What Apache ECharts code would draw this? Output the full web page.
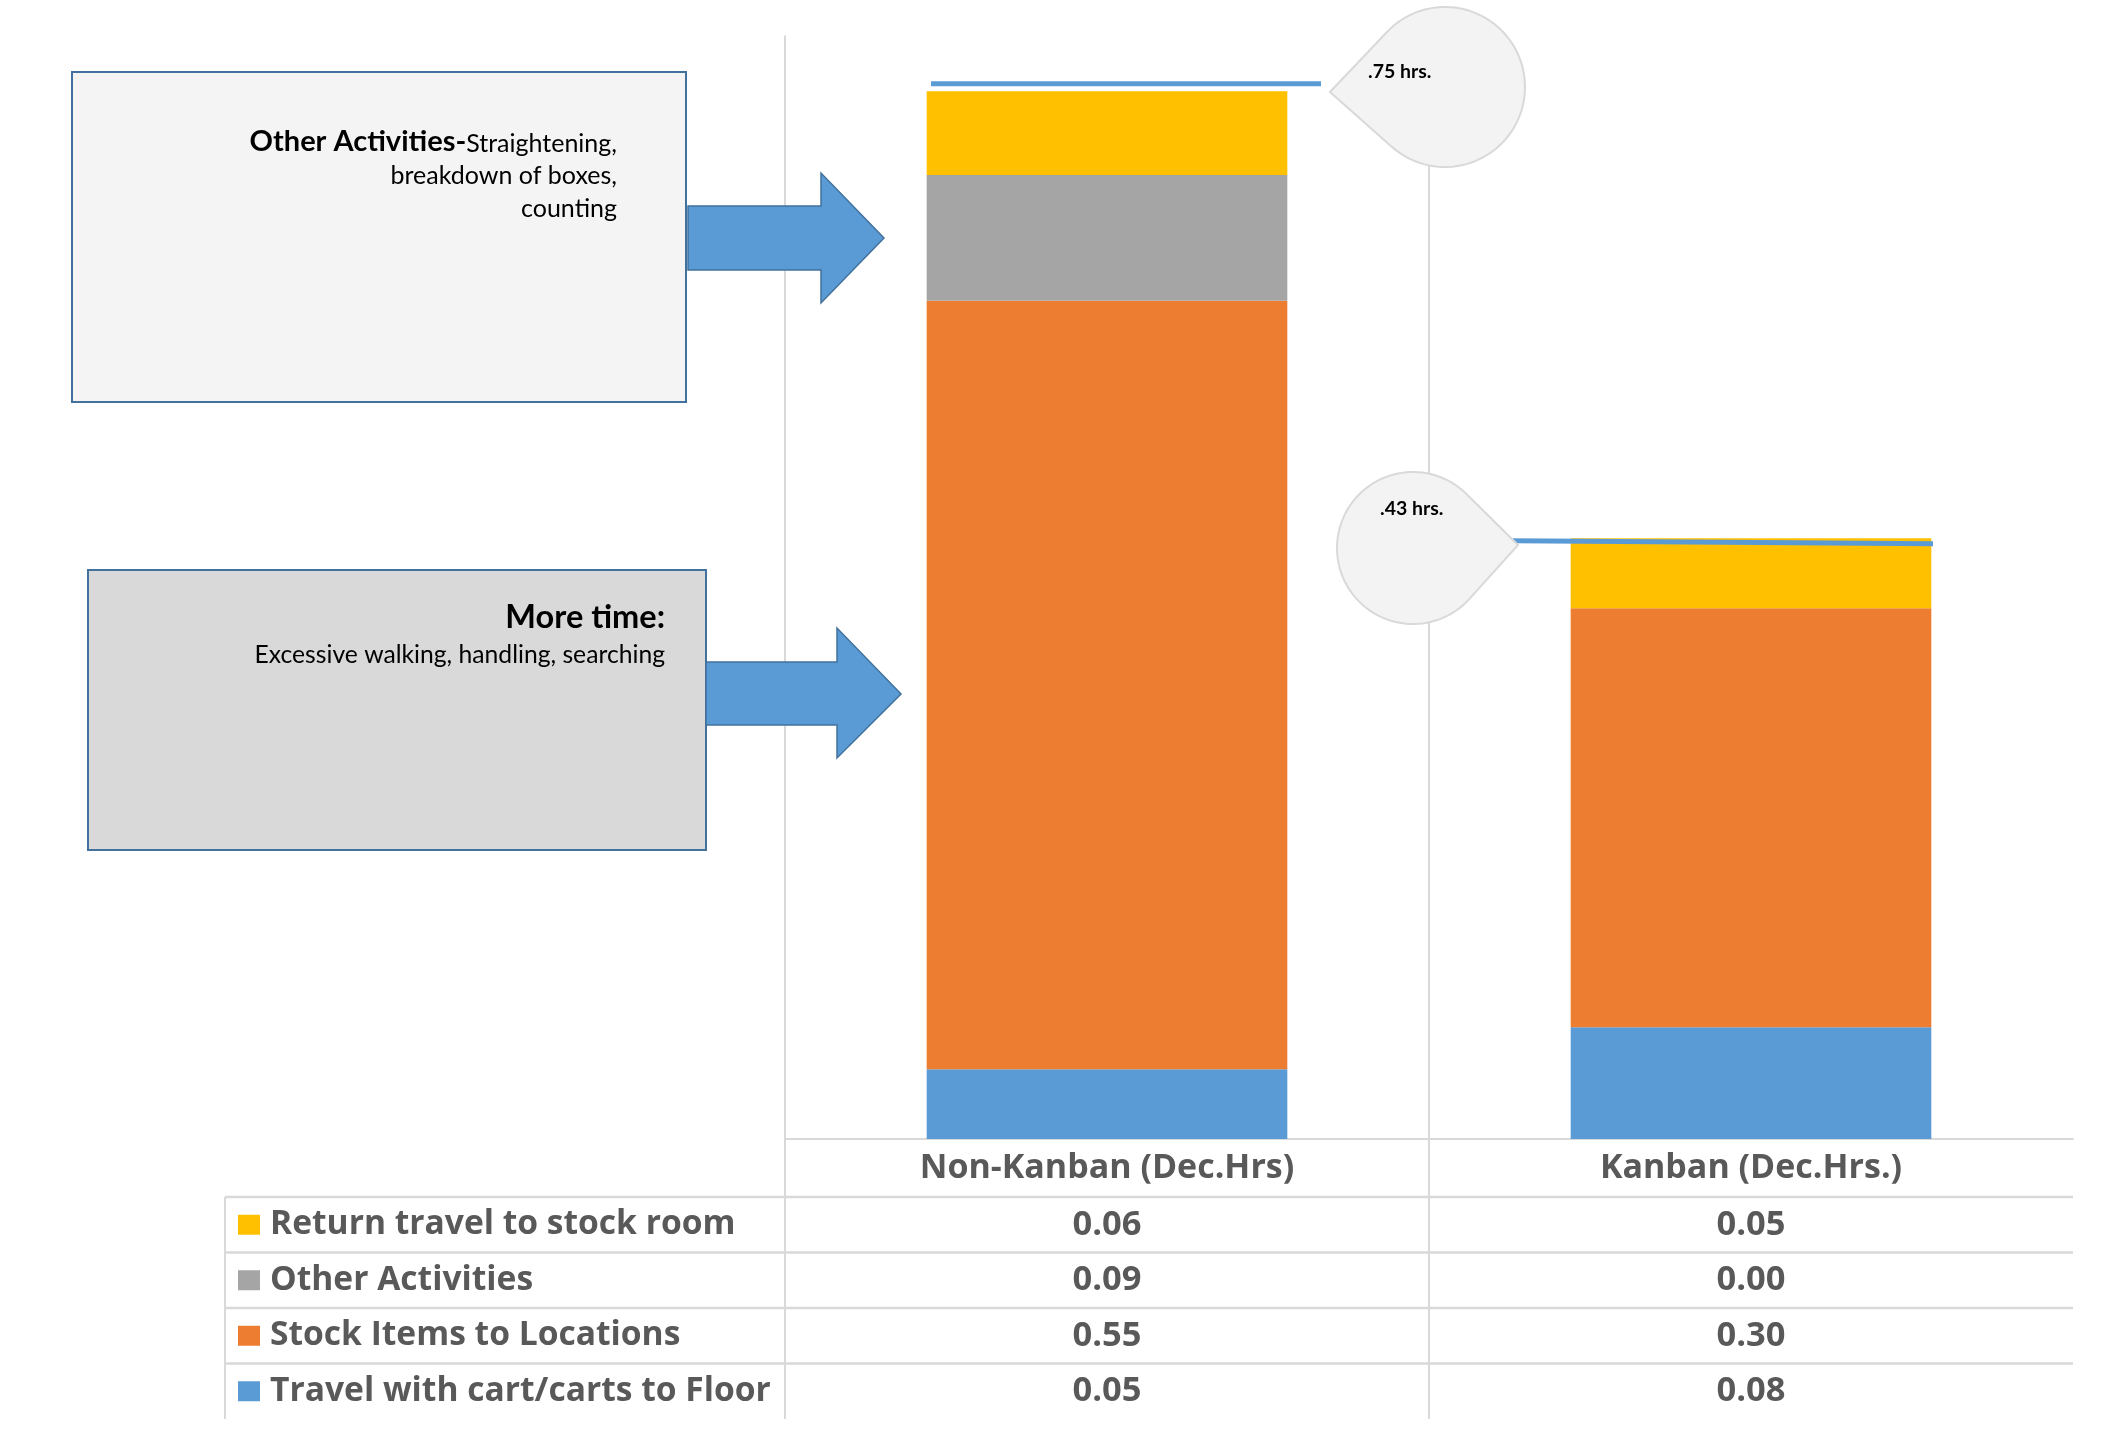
<!DOCTYPE html>
<html><head><meta charset="utf-8">
<script src="https://cdn.jsdelivr.net/npm/echarts@6/dist/echarts.min.js"></script>
<style>html,body{margin:0;padding:0;background:#fff}#c{width:2123px;height:1450px}</style>
</head><body><div id="c"></div>
<script>
// ---- data ----
const categories = ['Non-Kanban (Dec.Hrs)', 'Kanban (Dec.Hrs.)'];
// stacked from bottom to top
const seriesNames = ['Travel with cart/carts to Floor', 'Stock Items to Locations', 'Other Activities', 'Return travel to stock room'];
const travelToFloor = [0.05, 0.08];
const stockItems = [0.55, 0.30];
const otherActivities = [0.09, 0.00];
const returnTravel = [0.06, 0.05];
const seriesValues = [travelToFloor, stockItems, otherActivities, returnTravel];
const seriesColors = ['#5B9BD5', '#ED7D31', '#A5A5A5', '#FFC000'];
const yMax = 0.79;
const note1Bold = 'Other Activities-';
const note1Lines = ['Straightening,', 'breakdown of boxes,', 'counting'];
const note2Bold = 'More time:';
const note2Text = 'Excessive walking, handling, searching';

const FONT = 'Lato, "Open Sans", sans-serif';
const TFONT = '"Open Sans", Lato, sans-serif';
const chart = echarts.init(document.getElementById('c'), null, {renderer: 'canvas'});

chart.setOption({
  animation: false,
  backgroundColor: '#ffffff',
  grid: {left: 785, right: 50, top: 35.4, bottom: 311, containLabel: false},
  xAxis: {
    type: 'category', data: categories,
    axisLine: {show: true, lineStyle: {color: '#D9D9D9', width: 2}},
    axisTick: {show: false}, axisLabel: {show: false}, splitLine: {show: false}
  },
  yAxis: {type: 'value', min: 0, max: yMax, show: false, splitLine: {show: false}},
  series: seriesNames.map((n, i) => ({
    name: n, type: 'bar', stack: 'total', barWidth: '56%',
    data: seriesValues[i], itemStyle: {color: seriesColors[i]}, z: 2
  }))
});

// ---- annotations & data table ----
const cx = categories.map(c => chart.convertToPixel({xAxisIndex: 0}, c));
const step = cx[1] - cx[0];
const plotLeft = cx[0] - step / 2, plotMid = cx[0] + step / 2, plotRight = cx[1] + step / 2;
const yTop = chart.convertToPixel({yAxisIndex: 0}, yMax);
const y0 = chart.convertToPixel({yAxisIndex: 0}, 0);
const totals = categories.map((c, j) => seriesValues.reduce((s, a) => s + a[j], 0));
const yTot = totals.map(t => chart.convertToPixel({yAxisIndex: 0}, t));

const G = [];
const GRID = '#D9D9D9';
const tableLeft = 225, headerBottom = y0 + 58, rowH = 55.5;
const tableBottom = headerBottom + rowH * 4;

// vertical gridlines (category boundaries) continuing through table
[plotLeft, plotMid].forEach(x => G.push({type: 'line', z: 0, shape: {x1: x, y1: yTop, x2: x, y2: tableBottom}, style: {stroke: GRID, lineWidth: 2}}));
// table left border
G.push({type: 'line', z: 0, shape: {x1: tableLeft, y1: headerBottom, x2: tableLeft, y2: tableBottom}, style: {stroke: GRID, lineWidth: 2}});
// horizontal row lines
for (let r = 0; r < 4; r++) {
  const y = headerBottom + r * rowH;
  G.push({type: 'line', z: 0, shape: {x1: tableLeft, y1: y, x2: plotRight, y2: y}, style: {stroke: GRID, lineWidth: 2.5}});
}
const TXT = '#595959';
// header
categories.forEach((c, j) => G.push({type: 'text', z: 5, style: {text: c, x: cx[j], y: (y0 + headerBottom) / 2, align: 'center', verticalAlign: 'middle', fontFamily: TFONT, fontWeight: 'bold', fontSize: 34, fill: TXT}}));
// rows, top row = top of stack
for (let r = 0; r < 4; r++) {
  const si = 3 - r;
  const yc = headerBottom + r * rowH + rowH / 2;
  G.push({type: 'rect', z: 5, shape: {x: 238, y: yc - 10, width: 22, height: 20}, style: {fill: seriesColors[si]}});
  G.push({type: 'text', z: 5, style: {text: seriesNames[si], x: 270, y: yc, align: 'left', verticalAlign: 'middle', fontFamily: TFONT, fontWeight: 'bold', fontSize: 33.6, fill: TXT}});
  categories.forEach((c, j) => G.push({type: 'text', z: 5, style: {text: seriesValues[si][j].toFixed(2), x: cx[j], y: yc, align: 'center', verticalAlign: 'middle', fontFamily: TFONT, fontWeight: 'bold', fontSize: 34.5, fill: TXT}}));
}

// teardrop callouts
function teardrop(ccx, ccy, r, tx, ty) {
  const d = Math.hypot(tx - ccx, ty - ccy);
  const ang = Math.atan2(ty - ccy, tx - ccx);
  const th = Math.acos(r / d);
  const pts = [[tx, ty]];
  const a1 = ang - th, a2 = ang + th - 2 * Math.PI;
  const n = 80;
  for (let i = 0; i <= n; i++) {
    const a = a1 + (a2 - a1) * i / n;
    pts.push([ccx + r * Math.cos(a), ccy + r * Math.sin(a)]);
  }
  return pts;
}
const fmtHrs = t => t.toFixed(2).replace(/^0/, '') + ' hrs.';
// blue lines from totals to callouts
G.push({type: 'line', z: 9, shape: {x1: 931, y1: yTot[0] - 7.5, x2: 1321, y2: yTot[0] - 7.5}, style: {stroke: '#5B9BD5', lineWidth: 5}});
G.push({type: 'line', z: 9, shape: {x1: 1513, y1: yTot[1] + 2.5, x2: 1933, y2: yTot[1] + 5.5}, style: {stroke: '#5B9BD5', lineWidth: 5}});
G.push({type: 'polygon', z: 10, shape: {points: teardrop(1445, 87, 80, 1330, 92)}, style: {fill: '#F3F3F3', stroke: '#D9D9D9', lineWidth: 2}});
G.push({type: 'polygon', z: 10, shape: {points: teardrop(1413, 548, 76, 1518, 545)}, style: {fill: '#F3F3F3', stroke: '#D9D9D9', lineWidth: 2}});
G.push({type: 'text', z: 11, style: {text: fmtHrs(totals[0]), x: 1368, y: 71.5, align: 'left', verticalAlign: 'middle', fontFamily: FONT, fontWeight: 'bold', fontSize: 19.5, fill: '#000'}});
G.push({type: 'text', z: 11, style: {text: fmtHrs(totals[1]), x: 1380, y: 508.5, align: 'left', verticalAlign: 'middle', fontFamily: FONT, fontWeight: 'bold', fontSize: 19.5, fill: '#000'}});

// note boxes
G.push({type: 'rect', z: 10, shape: {x: 72, y: 72, width: 614, height: 330}, style: {fill: '#F4F4F4', stroke: '#41719C', lineWidth: 2}});
G.push({type: 'rect', z: 10, shape: {x: 88, y: 570, width: 618, height: 280}, style: {fill: '#D9D9D9', stroke: '#41719C', lineWidth: 2}});
// arrows
G.push({type: 'polygon', z: 10, shape: {points: [[688,206],[821,206],[821,173],[884,238],[821,303],[821,270],[688,270]]}, style: {fill: '#5B9BD5', stroke: '#41719C', lineWidth: 1.5}});
G.push({type: 'polygon', z: 10, shape: {points: [[706,662],[837,662],[837,628],[901,694],[837,758],[837,725],[706,725]]}, style: {fill: '#5B9BD5', stroke: '#41719C', lineWidth: 1.5}});

// text in box 1
const mctx = document.createElement('canvas').getContext('2d');
mctx.font = '25px ' + FONT;
const w1 = mctx.measureText(note1Lines[0]).width;
const rx1 = 617;
G.push({type: 'text', z: 11, style: {text: note1Lines[0], x: rx1, y: 144, align: 'right', verticalAlign: 'middle', fontFamily: FONT, fontSize: 25, fill: '#000'}});
G.push({type: 'text', z: 11, style: {text: note1Bold, x: rx1 - w1, y: 141.5, align: 'right', verticalAlign: 'middle', fontFamily: FONT, fontWeight: 'bold', fontSize: 29, fill: '#000'}});
G.push({type: 'text', z: 11, style: {text: note1Lines[1], x: rx1, y: 176, align: 'right', verticalAlign: 'middle', fontFamily: FONT, fontSize: 25, fill: '#000'}});
G.push({type: 'text', z: 11, style: {text: note1Lines[2], x: rx1, y: 209, align: 'right', verticalAlign: 'middle', fontFamily: FONT, fontSize: 25, fill: '#000'}});
// text in box 2
G.push({type: 'text', z: 11, style: {text: note2Bold, x: 665, y: 617.5, align: 'right', verticalAlign: 'middle', fontFamily: FONT, fontWeight: 'bold', fontSize: 32.5, fill: '#000'}});
G.push({type: 'text', z: 11, style: {text: note2Text, x: 665, y: 655, align: 'right', verticalAlign: 'middle', fontFamily: FONT, fontSize: 24.7, fill: '#000'}});

chart.setOption({graphic: {elements: G}});
</script></body></html>
